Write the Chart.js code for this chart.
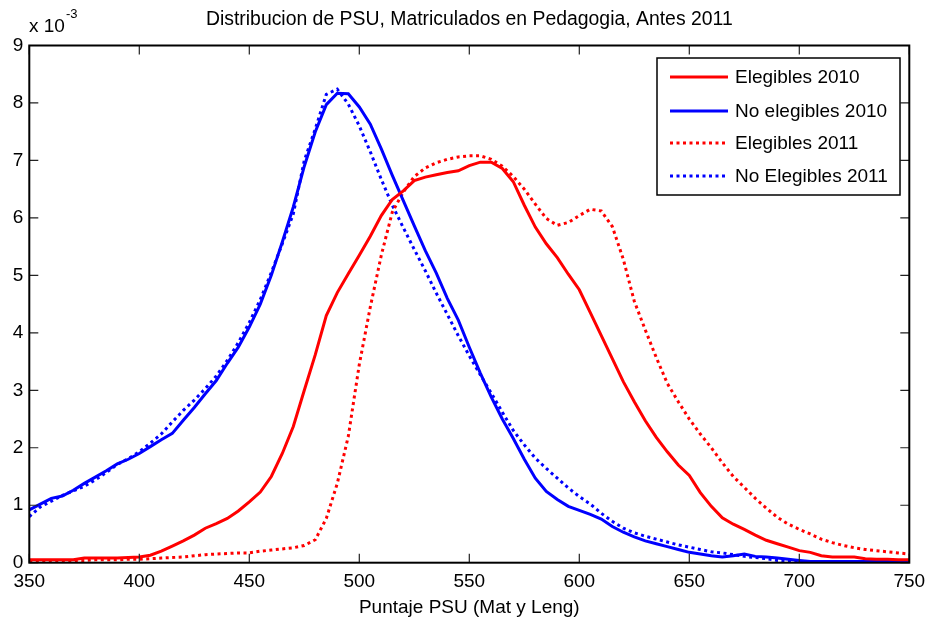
<!DOCTYPE html>
<html>
<head>
<meta charset="utf-8">
<script src="https://cdn.jsdelivr.net/npm/chart.js@4.4.1/dist/chart.umd.min.js"></script>
<style>
  html, body { margin: 0; padding: 0; background: #fff; }
  #wrap { width: 927px; height: 624px; }
</style>
</head>
<body>
<div id="wrap"><canvas id="psuChart" width="927" height="624"></canvas></div>
<script>
// Puntaje PSU (eje x)
const puntajes = [
    350, 355, 360, 365, 370, 375, 380, 385, 390, 395,
    400, 405, 410, 415, 420, 425, 430, 435, 440, 445,
    450, 455, 460, 465, 470, 475, 480, 485, 490, 495,
    500, 505, 510, 515, 520, 525, 530, 535, 540, 545,
    550, 555, 560, 565, 570, 575, 580, 585, 590, 595,
    600, 605, 610, 615, 620, 625, 630, 635, 640, 645,
    650, 655, 660, 665, 670, 675, 680, 685, 690, 695,
    700, 705, 710, 715, 720, 725, 730, 735, 740, 745, 750
];

// densidades en unidades de 10^-3
const elegibles2010 = [
    0.05, 0.05, 0.05, 0.05, 0.05, 0.08, 0.08, 0.08, 0.08, 0.09,
    0.10, 0.13, 0.20, 0.29, 0.38, 0.48, 0.60, 0.68, 0.77, 0.90,
    1.06, 1.23, 1.50, 1.90, 2.37, 3.00, 3.62, 4.30, 4.70, 5.03,
    5.35, 5.68, 6.04, 6.32, 6.47, 6.65, 6.71, 6.75, 6.79, 6.82,
    6.91, 6.97, 6.97, 6.86, 6.63, 6.22, 5.84, 5.55, 5.31, 5.02,
    4.75, 4.35, 3.95, 3.55, 3.15, 2.80, 2.47, 2.18, 1.93, 1.70,
    1.52, 1.22, 0.98, 0.78, 0.67, 0.58, 0.48, 0.39, 0.33, 0.27,
    0.21, 0.18, 0.12, 0.10, 0.10, 0.10, 0.07, 0.06, 0.06, 0.05, 0.05
];

const noElegibles2010 = [
    0.92, 1.02, 1.12, 1.16, 1.26, 1.38, 1.49, 1.60, 1.72, 1.80,
    1.90, 2.02, 2.14, 2.25, 2.48, 2.70, 2.94, 3.17, 3.47, 3.75,
    4.10, 4.50, 5.00, 5.58, 6.19, 6.90, 7.50, 7.97, 8.17, 8.16,
    7.93, 7.63, 7.20, 6.74, 6.30, 5.86, 5.43, 5.04, 4.60, 4.22,
    3.75, 3.30, 2.88, 2.50, 2.16, 1.80, 1.47, 1.24, 1.10, 0.98,
    0.91, 0.84, 0.76, 0.63, 0.53, 0.45, 0.38, 0.33, 0.28, 0.23,
    0.18, 0.15, 0.12, 0.10, 0.12, 0.15, 0.11, 0.10, 0.08, 0.06,
    0.04, 0.02, 0.02, 0.02, 0.02, 0.02, 0.02, 0.02, 0.02, 0.02, 0.02
];

const elegibles2011 = [
    0.02, 0.03, 0.03, 0.03, 0.04, 0.04, 0.05, 0.05, 0.05, 0.06,
    0.06, 0.07, 0.08, 0.09, 0.10, 0.12, 0.14, 0.15, 0.16, 0.17,
    0.17, 0.20, 0.22, 0.24, 0.26, 0.30, 0.40, 0.77, 1.38, 2.20,
    3.45, 4.45, 5.35, 6.10, 6.45, 6.72, 6.87, 6.96, 7.02, 7.06,
    7.08, 7.08, 7.02, 6.90, 6.72, 6.50, 6.24, 5.99, 5.87, 5.92,
    6.04, 6.15, 6.12, 5.85, 5.28, 4.55, 4.05, 3.57, 3.12, 2.80,
    2.50, 2.24, 2.00, 1.74, 1.50, 1.31, 1.12, 0.95, 0.79, 0.67,
    0.58, 0.50, 0.41, 0.35, 0.30, 0.26, 0.23, 0.21, 0.19, 0.17, 0.15
];

const noElegibles2011 = [
    0.80, 0.97, 1.07, 1.17, 1.25, 1.33, 1.44, 1.57, 1.71, 1.81,
    1.93, 2.08, 2.24, 2.45, 2.65, 2.83, 3.03, 3.25, 3.52, 3.83,
    4.18, 4.58, 5.05, 5.55, 6.07, 7.00, 7.55, 8.15, 8.24, 7.98,
    7.60, 7.15, 6.67, 6.22, 5.83, 5.45, 5.08, 4.69, 4.32, 3.95,
    3.60, 3.27, 2.95, 2.62, 2.30, 2.05, 1.82, 1.64, 1.47, 1.30,
    1.15, 1.02, 0.86, 0.72, 0.60, 0.52, 0.46, 0.41, 0.36, 0.31,
    0.27, 0.23, 0.19, 0.17, 0.14, 0.11, 0.09, 0.07, 0.04, 0.03,
    0.02, 0.02, 0.02, 0.02, 0.02, 0.02, 0.02, 0.02, 0.02, 0.02, 0.02
];

const etiquetas = ['Elegibles 2010', 'No elegibles 2010', 'Elegibles 2011', 'No Elegibles 2011'];
const titulo = 'Distribucion de PSU, Matriculados en Pedagogia, Antes 2011';
const tituloX = 'Puntaje PSU (Mat y Leng)';

const FONT = '"Liberation Sans", Arial, sans-serif';
const punto = [3, 3.5];

function serie(label, valores, color, dash) {
    return {
        label: label,
        data: puntajes.map((x, i) => ({ x: x, y: valores[i] })),
        borderColor: color,
        borderWidth: 3,
        borderDash: dash,
        borderCapStyle: 'butt',
        pointRadius: 0,
        tension: 0,
        fill: false
    };
}

// caja, ticks internos, leyenda, titulo y exponente al estilo MATLAB
const estiloMatlab = {
    id: 'estiloMatlab',
    afterDatasetsDraw(chart) {
        const ctx = chart.ctx;
        const a = chart.chartArea;
        const sx = chart.scales.x;
        const sy = chart.scales.y;
        ctx.save();

        // ticks hacia adentro
        ctx.strokeStyle = '#222';
        ctx.lineWidth = 1.2;
        ctx.setLineDash([]);
        ctx.beginPath();
        sx.ticks.forEach(t => {
            const px = sx.getPixelForValue(t.value);
            ctx.moveTo(px, a.bottom); ctx.lineTo(px, a.bottom - 9);
            ctx.moveTo(px, a.top); ctx.lineTo(px, a.top + 9);
        });
        sy.ticks.forEach(t => {
            const py = sy.getPixelForValue(t.value);
            ctx.moveTo(a.left, py); ctx.lineTo(a.left + 9, py);
            ctx.moveTo(a.right, py); ctx.lineTo(a.right - 9, py);
        });
        ctx.stroke();

        // caja
        ctx.strokeStyle = '#000';
        ctx.lineWidth = 2;
        ctx.strokeRect(a.left, a.top, a.right - a.left, a.bottom - a.top);

        // titulo
        ctx.fillStyle = '#000';
        ctx.font = '19.4px ' + FONT;
        ctx.textAlign = 'center';
        ctx.textBaseline = 'middle';
        ctx.fillText(titulo, (a.left + a.right) / 2, 20);

        // exponente
        ctx.textAlign = 'left';
        ctx.font = '19px ' + FONT;
        ctx.fillText('x 10', 29, 27);
        ctx.font = '13px ' + FONT;
        ctx.fillText('-3', 66, 14);

        // leyenda
        const lx = 657, ly = 58, lw = 243, lh = 137;
        ctx.fillStyle = '#fff';
        ctx.fillRect(lx, ly, lw, lh);
        ctx.strokeStyle = '#000';
        ctx.lineWidth = 1.5;
        ctx.strokeRect(lx, ly, lw, lh);
        ctx.font = '19px ' + FONT;
        ctx.textBaseline = 'middle';
        const filas = [77, 111, 143, 176];
        chart.data.datasets.forEach((ds, i) => {
            const y = filas[i];
            ctx.strokeStyle = ds.borderColor;
            ctx.lineWidth = 3;
            ctx.lineCap = 'butt';
            ctx.setLineDash(ds.borderDash || []);
            ctx.beginPath();
            ctx.moveTo(670, y);
            ctx.lineTo(728, y);
            ctx.stroke();
            ctx.setLineDash([]);
            ctx.fillStyle = '#000';
            ctx.fillText(ds.label, 735, y + 1);
        });
        ctx.restore();
    }
};

new Chart(document.getElementById('psuChart'), {
    type: 'line',
    data: {
        datasets: [
            serie(etiquetas[0], elegibles2010, 'rgb(255, 0, 0)', []),
            serie(etiquetas[1], noElegibles2010, 'rgb(0, 0, 255)', []),
            serie(etiquetas[2], elegibles2011, 'rgb(255, 0, 0)', punto),
            serie(etiquetas[3], noElegibles2011, 'rgb(0, 0, 255)', punto)
        ]
    },
    options: {
        responsive: false,
        animation: false,
        layout: { padding: { left: 0, right: 17.7, top: 45.5, bottom: 0 } },
        plugins: {
            legend: { display: false },
            title: { display: false },
            tooltip: { enabled: false }
        },
        scales: {
            x: {
                type: 'linear',
                min: 350,
                max: 750,
                grid: { display: false, drawTicks: false },
                border: { display: false },
                ticks: {
                    stepSize: 50,
                    padding: 8,
                    color: '#000',
                    font: { family: FONT, size: 19 }
                },
                title: {
                    display: true,
                    text: tituloX,
                    color: '#000',
                    font: { family: FONT, size: 19 },
                    padding: { top: 0, bottom: 5 }
                },
                afterFit: s => {
                    s.height = 61.3;
                    s.paddingLeft = 0;
                    s.paddingRight = 0;
                }
            },
            y: {
                min: 0,
                max: 9,
                grid: { display: false, drawTicks: false },
                border: { display: false },
                ticks: {
                    stepSize: 1,
                    padding: 6,
                    color: '#000',
                    font: { family: FONT, size: 19 }
                },
                afterFit: s => {
                    s.width = 29.3;
                    s.paddingTop = 0;
                    s.paddingBottom = 0;
                }
            }
        }
    },
    plugins: [estiloMatlab]
});
</script>
</body>
</html>
